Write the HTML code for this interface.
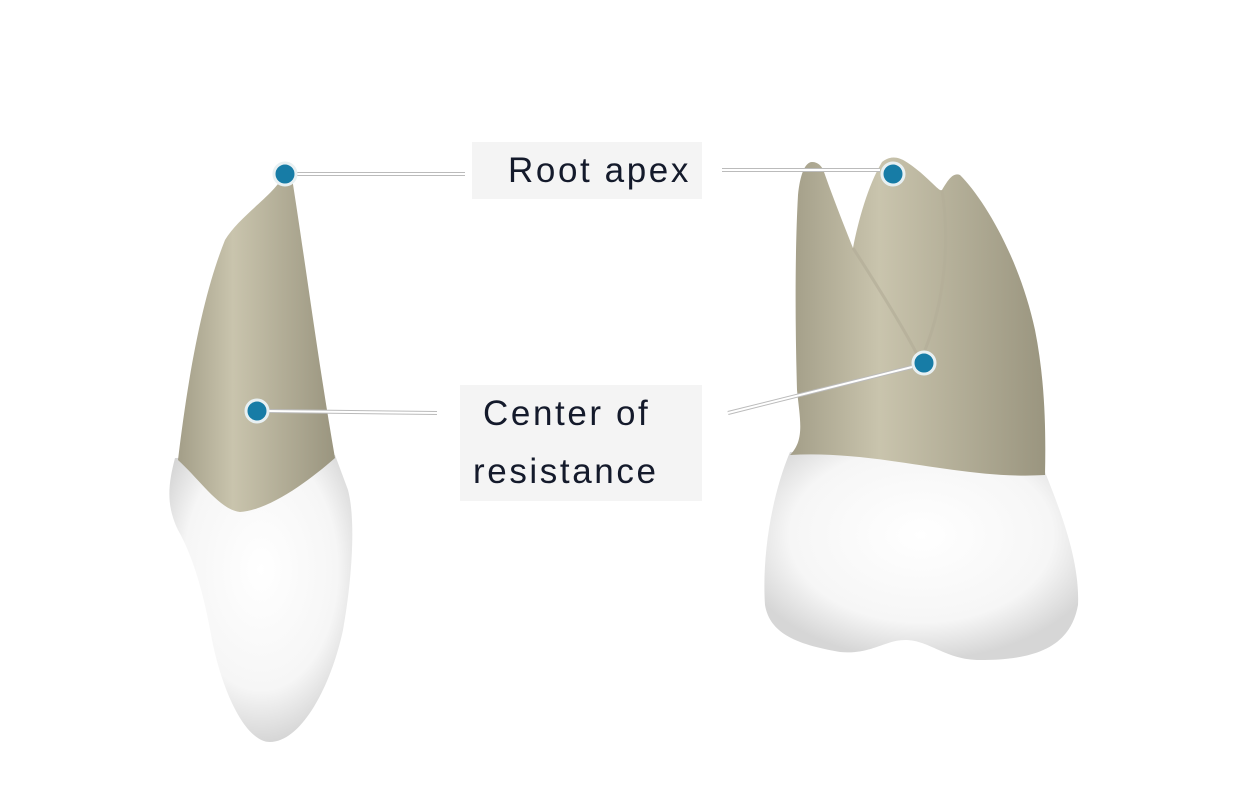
<!DOCTYPE html>
<html><head><style>
body{margin:0;background:#fff;}
.box{position:absolute;background:#f4f4f4;color:#141a2b;font-family:"Liberation Sans",sans-serif;font-size:35px;letter-spacing:2.6px;}
</style></head><body>
<div style="position:relative;width:1246px;height:800px;overflow:hidden">
<svg width="1246" height="800" style="position:absolute;left:0;top:0">
<defs>
<linearGradient id="rt" x1="0" x2="1">
<stop offset="0" stop-color="#a39e88"/><stop offset="0.35" stop-color="#c9c4ad"/><stop offset="1" stop-color="#9a957f"/></linearGradient>
<radialGradient id="cr" cx="0.5" cy="0.4" r="0.6">
<stop offset="0" stop-color="#ffffff"/><stop offset="0.7" stop-color="#f6f6f6"/><stop offset="1" stop-color="#d6d6d6"/></radialGradient>
</defs>
<path d="M175,458 C168,485 166,505 178,530 C195,560 205,600 212,640 C222,690 245,742 270,742 C300,742 330,690 343,630 C352,580 356,520 348,490 L335,455 Z" fill="url(#cr)"/>
<path d="M285,173 C275,195 240,215 225,240 C205,290 190,360 178,460 C200,480 220,510 240,512 C270,510 310,480 335,458 C318,360 305,260 292,178 Z" fill="url(#rt)"/>
<path d="M790,452 C770,500 762,560 765,605 C770,635 800,645 840,652 C870,655 885,640 905,640 C930,640 945,660 980,660 C1030,660 1070,650 1078,605 C1080,560 1060,510 1045,472 C960,480 880,450 790,452 Z" fill="url(#cr)"/>
<path d="M790,455 C805,440 800,420 797,390 C795,320 795,250 798,195 C800,175 805,162 812,162 C818,162 822,166 824,172 C832,195 845,228 853,248 C858,222 868,185 882,162 C895,152 905,160 920,172 C935,185 940,192 942,190 C948,180 953,172 960,175 C985,200 1020,260 1035,330 C1045,380 1046,430 1045,475 C960,480 880,450 790,455 Z" fill="url(#rt)"/>
<path d="M853,248 C880,290 905,330 920,360 M942,190 C950,240 945,300 925,350" stroke="#b3ae98" stroke-width="3" fill="none" opacity="0.7"/>
<g stroke="#bbb" stroke-width="4" fill="none"><line x1="296" y1="174" x2="465" y2="174"/><line x1="722" y1="170" x2="880" y2="170"/><line x1="268" y1="411" x2="437" y2="413"/><line x1="728" y1="413" x2="912" y2="367"/></g>
<g stroke="#fff" stroke-width="2" fill="none"><line x1="296" y1="174" x2="465" y2="174"/><line x1="722" y1="170" x2="880" y2="170"/><line x1="268" y1="411" x2="437" y2="413"/><line x1="728" y1="413" x2="912" y2="367"/></g>
<g fill="#177ca6" stroke="#e8f0f2" stroke-width="3">
<circle cx="285" cy="174" r="11"/><circle cx="257" cy="411" r="11"/><circle cx="893" cy="174" r="11"/><circle cx="924" cy="363" r="11"/></g>
</svg>
<div class="box" style="left:472px;top:142px;width:230px;height:57px;line-height:57px;text-indent:36px;white-space:nowrap;overflow:hidden">Root apex</div>
<div class="box" style="left:460px;top:385px;width:242px;height:116px;line-height:58px;text-align:left;white-space:nowrap"><div style="padding-left:23px">Center of</div><div style="padding-left:13px">resistance</div></div>
</div>
</body></html>
